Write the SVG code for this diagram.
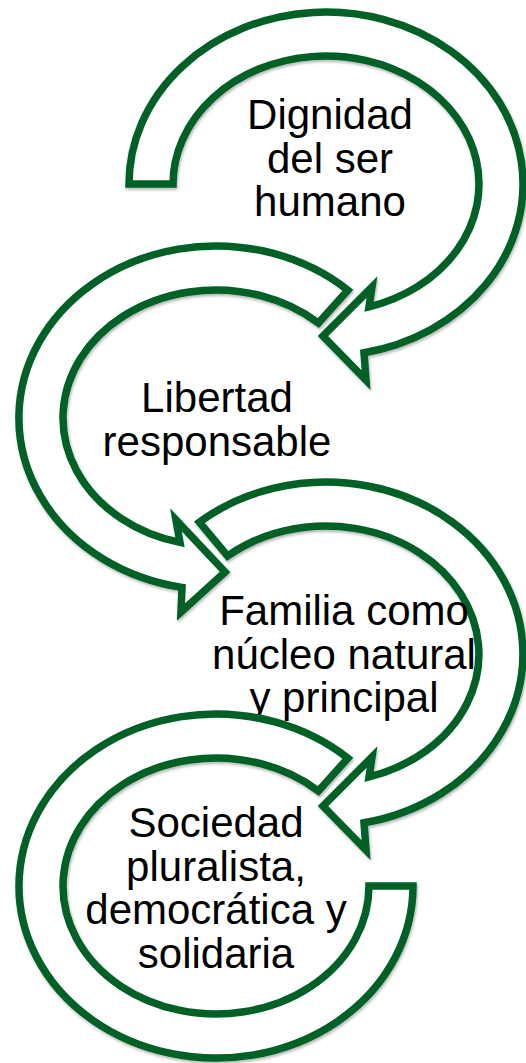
<svg xmlns="http://www.w3.org/2000/svg" width="526" height="1063" viewBox="0 0 526 1063">
<defs>
<filter id="sh" x="-10%" y="-10%" width="120%" height="120%">
<feDropShadow dx="1" dy="2" stdDeviation="1.5" flood-color="#000" flood-opacity="0.3"/>
</filter>
<style>
.arr{fill:#fff;stroke:#006128;stroke-width:7.5;stroke-linejoin:miter;stroke-miterlimit:10;filter:url(#sh)}
.t{font-family:"Liberation Sans",Arial,sans-serif;font-size:42px;fill:#000;text-anchor:middle}
</style>
</defs>
<rect width="526" height="1063" fill="#fff"/>
<g id="connectors"></g>
<g id="node1">
<path class="arr" d="M129,184 A197,172 0 1 1 364,352.8 L366,380 L323,336 L372,287 L369,306.9 A153,128 0 1 0 173,184 Z"/>
<text class="t" x="330" y="129">Dignidad</text>
<text class="t" x="330" y="172.5">del ser</text>
<text class="t" x="330" y="216">humano</text>
</g>
<g id="node2">
<path class="arr" d="M347.8,290.2 A197,172 0 1 0 182,587.4 L181,612 L225,572 L176,520 L180,542.4 A153,128 0 1 1 318.4,322.9 Z"/>
<text class="t" x="217" y="412">Libertad</text>
<text class="t" x="217" y="456">responsable</text>
</g>
<g id="node3">
<path class="arr" d="M199.4,522.2 A197,172 0 1 1 364,822.8 L366,850 L323,806 L372,757 L369,776.9 A153,128 0 1 0 227.6,556 Z"/>
<text class="t" x="344" y="625">Familia como</text>
<text class="t" x="344" y="668.5">núcleo natural</text>
<text class="t" x="344" y="712">y principal</text>
</g>
<g id="node4">
<path class="arr" d="M347.8,758.2 A197,172 0 1 0 413,886 L369,886 A153,128 0 1 1 318.4,790.9 Z"/>
<text class="t" x="216" y="837">Sociedad</text>
<text class="t" x="216" y="880.5">pluralista,</text>
<text class="t" x="216" y="924">democrática y</text>
<text class="t" x="216" y="968">solidaria</text>
</g>
</svg>
